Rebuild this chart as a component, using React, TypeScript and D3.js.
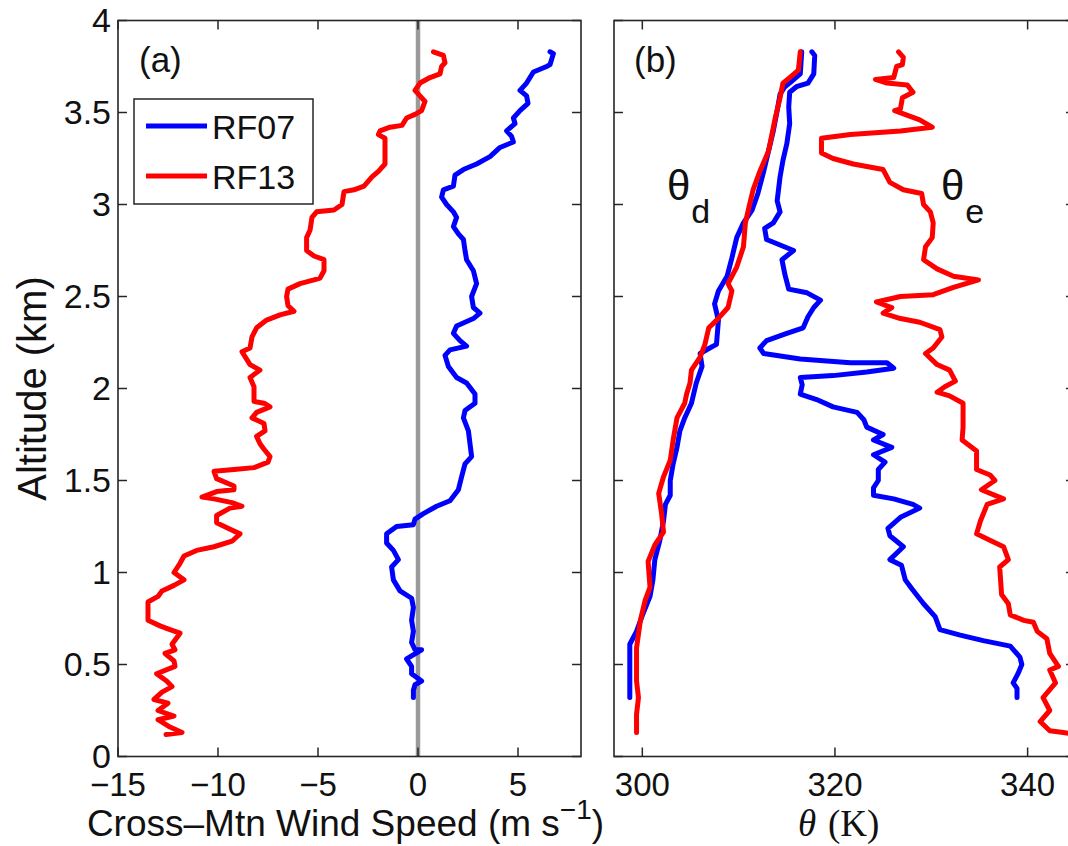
import React from "react";
import * as d3 from "d3";

// [value, altitude km]
const rf07Wind: [number, number][] = [[6.6,3.83],[6.77,3.82],[6.6,3.76],[6.43,3.75],[5.77,3.72],[5.6,3.69],[5.43,3.66],[5.1,3.62],[5.43,3.59],[5.5,3.55],[5.1,3.51],[4.77,3.47],[4.85,3.44],[4.43,3.40],[4.68,3.37],[4.77,3.34],[4.1,3.31],[3.6,3.26],[2.93,3.22],[2.27,3.19],[1.85,3.16],[1.77,3.10],[1.27,3.08],[1.18,3.04],[1.43,3.00],[1.77,2.96],[1.93,2.93],[1.77,2.88],[2.02,2.84],[2.27,2.81],[2.35,2.75],[2.43,2.70],[2.77,2.64],[2.93,2.57],[2.68,2.50],[2.77,2.44],[3.1,2.41],[2.77,2.38],[1.93,2.34],[1.77,2.30],[2.1,2.26],[2.43,2.23],[1.6,2.21],[1.35,2.18],[1.52,2.12],[1.93,2.06],[2.43,2.03],[2.85,1.97],[2.85,1.92],[2.35,1.88],[2.27,1.84],[2.52,1.77],[2.6,1.70],[2.68,1.63],[2.35,1.59],[2.18,1.52],[2.02,1.45],[1.6,1.39],[0.93,1.36],[0.27,1.32],[-0.15,1.29],[-0.23,1.26],[-1.07,1.25],[-1.57,1.21],[-1.57,1.16],[-1.23,1.12],[-0.98,1.07],[-1.32,1.03],[-1.23,0.96],[-0.9,0.90],[-0.32,0.86],[-0.23,0.81],[-0.32,0.74],[-0.23,0.68],[-0.32,0.62],[-0.15,0.58],[0.18,0.58],[-0.57,0.53],[-0.32,0.49],[-0.32,0.45],[0.18,0.41],[-0.15,0.39],[-0.23,0.36],[-0.23,0.32]];

const rf13Wind: [number, number][] = [[0.77,3.83],[1.27,3.81],[1.35,3.77],[1.18,3.75],[1.1,3.71],[0.6,3.69],[0.1,3.66],[-0.15,3.62],[0.1,3.59],[0.35,3.56],[0.18,3.51],[-0.15,3.49],[-0.57,3.47],[-0.8,3.43],[-1.4,3.42],[-1.9,3.40],[-1.98,3.38],[-1.65,3.36],[-1.65,3.27],[-1.65,3.22],[-1.98,3.18],[-2.3,3.15],[-2.7,3.10],[-3.2,3.08],[-3.7,3.07],[-3.8,3.00],[-4.2,2.97],[-5.07,2.96],[-5.3,2.93],[-5.4,2.86],[-5.57,2.82],[-5.57,2.75],[-5.2,2.72],[-4.7,2.70],[-4.7,2.64],[-4.9,2.60],[-5.2,2.59],[-5.9,2.57],[-6.5,2.54],[-6.57,2.50],[-6.5,2.45],[-6.2,2.42],[-6.9,2.40],[-7.6,2.37],[-8.07,2.33],[-8.3,2.28],[-8.4,2.22],[-8.8,2.20],[-8.57,2.16],[-8.4,2.13],[-7.9,2.10],[-8.4,2.06],[-8.2,2.01],[-8.2,1.93],[-7.7,1.92],[-7.4,1.90],[-8.07,1.87],[-8.3,1.84],[-7.7,1.81],[-7.65,1.77],[-8.07,1.74],[-7.9,1.70],[-7.7,1.67],[-7.4,1.63],[-7.5,1.60],[-8.2,1.57],[-9.2,1.56],[-10.2,1.55],[-10.07,1.51],[-9.2,1.47],[-9.2,1.45],[-10.07,1.44],[-10.8,1.41],[-10.2,1.40],[-9.3,1.38],[-8.8,1.36],[-9.4,1.35],[-10.07,1.31],[-10.07,1.27],[-9.5,1.24],[-8.9,1.21],[-9.3,1.17],[-10.2,1.14],[-11.07,1.12],[-11.7,1.09],[-11.9,1.05],[-12.2,1.00],[-11.7,0.96],[-12.2,0.93],[-12.8,0.90],[-13.0,0.87],[-13.5,0.84],[-13.5,0.78],[-13.5,0.74],[-12.9,0.71],[-12.4,0.69],[-11.9,0.67],[-12.3,0.61],[-12.15,0.58],[-12.65,0.56],[-12.2,0.52],[-12.15,0.49],[-13.07,0.45],[-12.57,0.41],[-12.3,0.38],[-12.8,0.35],[-13.2,0.31],[-12.5,0.29],[-13.0,0.25],[-12.2,0.22],[-13.0,0.20],[-12.4,0.16],[-11.8,0.13],[-12.6,0.12]];

const rf07ThetaD: [number, number][] = [[316.55,3.83],[316.4,3.71],[315.5,3.67],[314.8,3.64],[314.3,3.60],[314.0,3.51],[313.6,3.40],[313.1,3.29],[312.6,3.18],[312.0,3.06],[311.4,2.97],[310.5,2.90],[309.8,2.82],[309.3,2.71],[308.8,2.61],[307.9,2.53],[307.5,2.46],[307.9,2.37],[307.7,2.24],[307.0,2.22],[306.0,2.19],[306.2,2.12],[305.6,2.03],[305.1,1.92],[304.4,1.84],[303.9,1.77],[303.6,1.68],[303.2,1.59],[302.9,1.50],[302.9,1.42],[302.4,1.37],[302.2,1.28],[301.8,1.17],[301.3,1.07],[301.1,0.96],[300.8,0.87],[300.1,0.78],[299.4,0.68],[298.7,0.61],[298.7,0.50],[298.7,0.32]];

const rf13ThetaD: [number, number][] = [[316.4,3.83],[316.2,3.73],[315.3,3.69],[314.6,3.66],[314.3,3.58],[313.8,3.47],[313.1,3.29],[312.2,3.18],[311.5,3.08],[311.0,2.97],[310.7,2.90],[310.5,2.77],[309.8,2.66],[308.9,2.57],[309.3,2.53],[308.9,2.44],[307.7,2.37],[306.9,2.33],[306.5,2.24],[306.0,2.17],[305.1,2.10],[304.95,2.03],[304.6,1.97],[304.4,1.92],[303.6,1.84],[303.2,1.72],[302.9,1.61],[302.2,1.52],[301.7,1.43],[302.0,1.32],[302.2,1.22],[301.3,1.15],[300.6,1.06],[300.8,0.92],[300.3,0.85],[299.8,0.74],[299.4,0.59],[299.4,0.41],[299.6,0.32],[299.4,0.23],[299.4,0.13]];

const rf07ThetaE: [number, number][] = [[317.6,3.83],[317.9,3.81],[317.8,3.71],[317.2,3.66],[316.0,3.64],[315.3,3.61],[315.2,3.53],[315.3,3.44],[315.0,3.33],[314.6,3.24],[314.3,3.15],[314.0,3.02],[314.3,2.96],[313.6,2.90],[312.7,2.87],[312.9,2.81],[314.3,2.78],[315.7,2.75],[314.5,2.70],[314.8,2.62],[315.2,2.54],[317.1,2.52],[318.5,2.48],[317.8,2.44],[317.2,2.39],[316.7,2.33],[315.0,2.30],[312.9,2.26],[312.2,2.22],[312.6,2.19],[316.4,2.16],[321.6,2.14],[325.4,2.14],[326.1,2.11],[323.3,2.09],[319.8,2.07],[316.4,2.06],[316.6,2.02],[316.4,1.97],[318.1,1.94],[319.8,1.90],[322.3,1.87],[323.0,1.83],[323.3,1.79],[325.0,1.75],[324.0,1.72],[325.9,1.68],[324.0,1.64],[325.2,1.60],[324.5,1.56],[324.5,1.50],[324.0,1.46],[324.0,1.42],[326.1,1.40],[328.1,1.37],[328.8,1.35],[326.8,1.30],[325.5,1.24],[325.7,1.20],[327.1,1.14],[325.7,1.07],[326.9,1.04],[327.3,0.96],[328.0,0.91],[329.2,0.83],[330.4,0.76],[330.9,0.69],[333.0,0.66],[335.4,0.63],[338.2,0.60],[339.2,0.54],[339.4,0.50],[339.0,0.45],[338.5,0.40],[338.9,0.37],[338.9,0.32]];

const rf13ThetaE: [number, number][] = [[326.6,3.83],[327.1,3.80],[327.0,3.76],[326.4,3.75],[326.1,3.69],[324.2,3.68],[325.4,3.66],[327.5,3.65],[328.1,3.61],[327.0,3.58],[326.8,3.52],[326.2,3.51],[328.8,3.46],[330.1,3.42],[326.8,3.40],[321.6,3.38],[318.6,3.36],[318.6,3.28],[319.8,3.25],[321.9,3.22],[325.0,3.19],[325.7,3.12],[327.1,3.08],[329.0,3.06],[329.2,3.00],[329.9,2.96],[330.2,2.90],[330.1,2.82],[329.4,2.77],[329.2,2.70],[330.6,2.65],[332.3,2.61],[334.9,2.59],[332.3,2.55],[330.2,2.51],[326.8,2.50],[324.3,2.47],[325.9,2.44],[325.0,2.41],[326.8,2.38],[328.8,2.36],[330.9,2.32],[331.1,2.28],[330.2,2.22],[329.4,2.19],[330.6,2.13],[331.9,2.10],[332.5,2.04],[331.4,2.01],[330.6,1.98],[331.9,1.96],[333.3,1.92],[333.3,1.79],[333.2,1.72],[334.7,1.66],[334.7,1.56],[336.1,1.53],[336.6,1.50],[335.2,1.45],[337.5,1.40],[335.8,1.37],[335.1,1.28],[334.7,1.21],[336.3,1.17],[337.5,1.14],[338.0,1.07],[337.1,1.03],[337.3,0.88],[338.0,0.83],[338.2,0.77],[339.6,0.74],[340.6,0.73],[341.0,0.68],[342.0,0.64],[342.3,0.56],[343.2,0.49],[342.3,0.47],[342.9,0.40],[341.6,0.32],[342.3,0.25],[341.3,0.19],[342.3,0.14],[343.7,0.13],[345.0,0.12]];

const altTicks = [0, 0.5, 1, 1.5, 2, 2.5, 3, 3.5, 4];
const windTicks = [-15, -10, -5, 0, 5];
const thetaTicks = [300, 320, 340];
const legendNames = ["RF07", "RF13"];

const BLUE = "#0000ff";
const RED = "#ff0000";
const AX = "#262626";
const SANS = "'Liberation Sans', Arial, Helvetica, sans-serif";
const SERIF = "'Liberation Serif', 'DejaVu Serif', serif";

export default function App() {
  const W = 1068, H = 846;
  const y = d3.scaleLinear().domain([0, 4]).range([756.5, 20.5]);
  const xa = d3.scaleLinear().domain([-15, 8.15]).range([118, 581]);
  const xb = d3.scaleLinear().domain([297.06, 344.92]).range([614, 1075]);

  const lineA = d3.line<[number, number]>().x(d => xa(d[0])).y(d => y(d[1]));
  const lineB = d3.line<[number, number]>().x(d => xb(d[0])).y(d => y(d[1]));

  const fmt = (v: number) => (v < 0 ? "\u2212" + Math.abs(v) : String(v));
  const tickLen = 9;
  const LW = 5;

  const panel = (x: d3.ScaleLinear<number, number>, xt: number[], showY: boolean, key: string) => {
    const [x0, x1] = x.range();
    const [yb, yt] = y.range();
    return (
      <g key={key}>
        {altTicks.map(t => (
          <g key={"y" + t}>
            <line x1={x0} x2={x0 + tickLen} y1={y(t)} y2={y(t)} stroke={AX} strokeWidth={1.5} />
            <line x1={x1} x2={x1 - tickLen} y1={y(t)} y2={y(t)} stroke={AX} strokeWidth={1.5} />
            {showY && (
              <text x={x0 - 7} y={y(t)} dy="0.34em" textAnchor="end" fontSize={34} fontFamily={SANS} fill="#111">
                {String(t)}
              </text>
            )}
          </g>
        ))}
        {xt.map(t => (
          <g key={"x" + t}>
            <line x1={x(t)} x2={x(t)} y1={yb} y2={yb - tickLen} stroke={AX} strokeWidth={1.5} />
            <line x1={x(t)} x2={x(t)} y1={yt} y2={yt + tickLen} stroke={AX} strokeWidth={1.5} />
            <text x={x(t)} y={796} textAnchor="middle" fontSize={33} fontFamily={SANS} fill="#111">
              {fmt(t)}
            </text>
          </g>
        ))}
        <rect x={x0} y={yt} width={x1 - x0} height={yb - yt} fill="none" stroke={AX} strokeWidth={1.6} />
      </g>
    );
  };

  return (
    <svg width={W} height={H} style={{ position: "absolute", left: 0, top: 0, background: "#fff" }}>
      <rect x={0} y={0} width={W} height={H} fill="#fff" />
      <defs>
        <clipPath id="clipB">
          <rect x={614} y={20} width={461} height={737} />
        </clipPath>
      </defs>
      {/* panel a */}
      <line x1={xa(0)} x2={xa(0)} y1={y(0)} y2={y(4)} stroke="#9a9a9a" strokeWidth={4.5} />
      <path d={lineA(rf07Wind) || ""} fill="none" stroke={BLUE} strokeWidth={LW} strokeLinejoin="round" strokeLinecap="round" />
      <path d={lineA(rf13Wind) || ""} fill="none" stroke={RED} strokeWidth={LW} strokeLinejoin="round" strokeLinecap="round" />
      {panel(xa, windTicks, true, "pa")}
      <text x={139} y={72} fontSize={35} fontFamily={SANS} fill="#111">(a)</text>

      {/* legend */}
      <rect x={134} y={99} width={179} height={105} fill="#fff" stroke={AX} strokeWidth={1.5} />
      {legendNames.map((n, i) => (
        <g key={n}>
          <line x1={146} x2={207} y1={126 + i * 50} y2={126 + i * 50} stroke={i === 0 ? BLUE : RED} strokeWidth={LW} />
          <text x={212} y={139 + i * 50} fontSize={34} fontFamily={SANS} fill="#111">{n}</text>
        </g>
      ))}

      {/* panel b */}
      <g clipPath="url(#clipB)">
        <path d={lineB(rf07ThetaE) || ""} fill="none" stroke={BLUE} strokeWidth={LW} strokeLinejoin="round" strokeLinecap="round" />
        <path d={lineB(rf07ThetaD) || ""} fill="none" stroke={BLUE} strokeWidth={LW} strokeLinejoin="round" strokeLinecap="round" />
        <path d={lineB(rf13ThetaE) || ""} fill="none" stroke={RED} strokeWidth={LW} strokeLinejoin="round" strokeLinecap="round" />
        <path d={lineB(rf13ThetaD) || ""} fill="none" stroke={RED} strokeWidth={LW} strokeLinejoin="round" strokeLinecap="round" />
      </g>
      {panel(xb, thetaTicks, false, "pb")}
      <text x={634} y={72} fontSize={35} fontFamily={SANS} fill="#111">(b)</text>

      <text x={667} y={200} fontSize={42} fontFamily={SANS} fill="#111">
        θ<tspan dx={1} dy={23} fontSize={34}>d</tspan>
      </text>
      <text x={941} y={200} fontSize={42} fontFamily={SANS} fill="#111">
        θ<tspan dx={1} dy={23} fontSize={34}>e</tspan>
      </text>

      {/* axis labels */}
      <text
        transform={`translate(46, ${(y(0) + y(4)) / 2}) rotate(-90)`}
        textAnchor="middle"
        fontSize={40}
        fontFamily={SANS}
        fill="#111"
      >
        Altitude (km)
      </text>
      <text x={(xa.range()[0] + xa.range()[1]) / 2 - 4} y={836} textAnchor="middle" fontSize={37} fontFamily={SANS} fill="#111">
        Cross–Mtn Wind Speed (m s<tspan dy={-17} fontSize={28}>−1</tspan><tspan dy={17}>)</tspan>
      </text>
      <text x={798} y={836} fontSize={37} fontStyle="italic" fontFamily={SERIF} fill="#111">θ</text>
      <text x={828} y={836} fontSize={37} fontFamily={SERIF} fill="#111">(K)</text>
    </svg>
  );
}
